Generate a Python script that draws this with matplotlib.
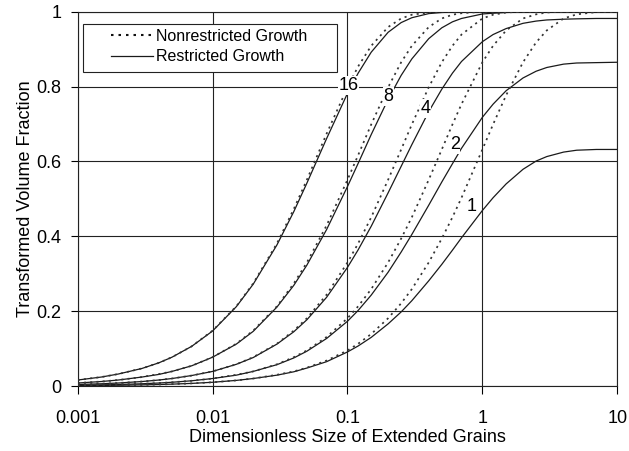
import matplotlib
matplotlib.use('Agg')
import matplotlib.pyplot as plt
from matplotlib.patches import Rectangle

plt.rcParams['font.family'] = ['Liberation Sans', 'DejaVu Sans']

# Data

x = [0.001, 0.0015, 0.002, 0.003, 0.004, 0.005, 0.007, 0.01, 0.015, 0.02,
     0.03, 0.04, 0.05, 0.07, 0.1, 0.12, 0.15, 0.2, 0.25, 0.3,
     0.4, 0.5, 0.6, 0.7, 1, 1.2, 1.5, 2, 2.5, 3,
     4, 5, 7, 10]

# nonrestricted growth (dotted)
free_1 = [0.001, 0.0015, 0.002, 0.003, 0.004, 0.005, 0.007, 0.010, 0.015, 0.020,
          0.030, 0.039, 0.049, 0.068, 0.095, 0.113, 0.139, 0.181, 0.221, 0.259,
          0.330, 0.394, 0.451, 0.503, 0.632, 0.699, 0.777, 0.865, 0.918, 0.950,
          0.982, 0.993, 0.999, 1.000]
free_2 = [0.002, 0.003, 0.004, 0.006, 0.008, 0.010, 0.014, 0.020, 0.030, 0.039,
          0.058, 0.077, 0.095, 0.131, 0.181, 0.213, 0.259, 0.330, 0.394, 0.451,
          0.551, 0.632, 0.699, 0.753, 0.865, 0.909, 0.950, 0.982, 0.993, 0.998,
          1.000, 1.000, 1.000, 1.000]
free_4 = [0.004, 0.006, 0.008, 0.012, 0.016, 0.020, 0.028, 0.039, 0.058, 0.077,
          0.113, 0.148, 0.181, 0.244, 0.330, 0.381, 0.451, 0.551, 0.632, 0.699,
          0.798, 0.865, 0.909, 0.939, 0.982, 0.992, 0.998, 1.000, 1.000, 1.000,
          1.000, 1.000, 1.000, 1.000]
free_8 = [0.008, 0.012, 0.016, 0.024, 0.032, 0.039, 0.054, 0.077, 0.113, 0.148,
          0.213, 0.274, 0.330, 0.429, 0.551, 0.617, 0.699, 0.798, 0.865, 0.909,
          0.959, 0.982, 0.992, 0.996, 1.000, 1.000, 1.000, 1.000, 1.000, 1.000,
          1.000, 1.000, 1.000, 1.000]
free_16 = [0.016, 0.024, 0.032, 0.047, 0.062, 0.077, 0.106, 0.148, 0.213, 0.274,
           0.381, 0.473, 0.551, 0.674, 0.798, 0.854, 0.909, 0.959, 0.982, 0.992,
           0.998, 1.000, 1.000, 1.000, 1.000, 1.000, 1.000, 1.000, 1.000, 1.000,
           1.000, 1.000, 1.000, 1.000]

# restricted growth (solid)
res_1 = [0.001, 0.0015, 0.002, 0.003, 0.004, 0.005, 0.007, 0.010, 0.015, 0.020,
         0.029, 0.038, 0.048, 0.065, 0.091, 0.107, 0.130, 0.166, 0.198, 0.228,
         0.281, 0.325, 0.363, 0.396, 0.469, 0.503, 0.540, 0.579, 0.601, 0.613,
         0.625, 0.630, 0.632, 0.632]
res_2 = [0.002, 0.003, 0.004, 0.006, 0.008, 0.010, 0.014, 0.020, 0.029, 0.039,
         0.057, 0.075, 0.093, 0.127, 0.173, 0.202, 0.243, 0.304, 0.358, 0.405,
         0.483, 0.545, 0.594, 0.635, 0.718, 0.753, 0.789, 0.823, 0.841, 0.851,
         0.860, 0.863, 0.864, 0.865]
res_4 = [0.004, 0.006, 0.008, 0.012, 0.016, 0.020, 0.028, 0.039, 0.058, 0.076,
         0.112, 0.145, 0.177, 0.237, 0.317, 0.364, 0.427, 0.516, 0.587, 0.645,
         0.733, 0.793, 0.836, 0.867, 0.920, 0.939, 0.955, 0.969, 0.975, 0.978,
         0.980, 0.981, 0.982, 0.982]
res_8 = [0.008, 0.012, 0.016, 0.024, 0.031, 0.039, 0.054, 0.077, 0.112, 0.146,
         0.211, 0.269, 0.323, 0.418, 0.533, 0.595, 0.672, 0.766, 0.830, 0.874,
         0.928, 0.957, 0.973, 0.982, 0.994, 0.996, 0.998, 0.999, 0.999, 1.000,
         1.000, 1.000, 1.000, 1.000]
res_16 = [0.016, 0.024, 0.032, 0.047, 0.062, 0.077, 0.106, 0.147, 0.212, 0.272,
          0.377, 0.466, 0.542, 0.661, 0.782, 0.836, 0.892, 0.945, 0.971, 0.984,
          0.995, 0.998, 0.999, 1.000, 1.000, 1.000, 1.000, 1.000, 1.000, 1.000,
          1.000, 1.000, 1.000, 1.000]

free_curves = [free_1, free_2, free_4, free_8, free_16]
res_curves = [res_1, res_2, res_4, res_8, res_16]

# curve labels and where they sit
curve_names = ['1', '2', '4', '8', '16']
label_x = [0.83, 0.624, 0.379, 0.202, 0.102]
label_y = [0.48, 0.645, 0.741, 0.773, 0.803]

x_ticks = [0.001, 0.01, 0.1, 1, 10]
x_ticklabels = ['0.001', '0.01', '0.1', '1', '10']
y_ticks = [0, 0.2, 0.4, 0.6, 0.8, 1]
y_ticklabels = ['0', '0.2', '0.4', '0.6', '0.8', '1']

DOTS = (0, (1.2, 2.4))

# Plot

fig = plt.figure(figsize=(6.29, 4.51), dpi=100)
ax = fig.add_axes([0.1235, 0.1441, 0.8579, 0.8299])

for yr in res_curves:
    ax.plot(x, yr, color='#1a1a1a', lw=0.9, zorder=3)
for yf in free_curves:
    ax.plot(x, yf, color='#333333', lw=1.25, linestyle=DOTS, zorder=4)

for name, lx, ly in zip(curve_names, label_x, label_y):
    ax.text(lx, ly, name, fontsize=13, ha='center', va='center', zorder=6,
            bbox=dict(facecolor='white', edgecolor='none', pad=0.5))

ax.set_xscale('log')
ax.set_xlim(0.001, 10)
ax.set_ylim(0, 1)
ax.set_xticks(x_ticks)
ax.set_xticklabels(x_ticklabels)
ax.set_yticks(y_ticks)
ax.set_yticklabels(y_ticklabels)
ax.minorticks_off()
ax.tick_params(axis='x', length=6, width=0.8, pad=11, labelsize=13)
ax.tick_params(axis='y', length=5, width=0.8, pad=6.5, labelsize=13)
ax.grid(True, color='#222222', lw=0.8, zorder=1)
ax.set_axisbelow(True)
for s in ax.spines.values():
    s.set_linewidth(0.8)
    s.set_color('#222222')

ax.set_xlabel('Dimensionless Size of Extended Grains', fontsize=13, labelpad=2)
ax.set_ylabel('Transformed Volume Fraction', fontsize=13, labelpad=2)

# legend box
ax.add_patch(Rectangle((0.0098, 0.8397), 0.4707, 0.1266, transform=ax.transAxes,
                       facecolor='white', edgecolor='#222222', lw=0.8, zorder=7))
h1, = ax.plot([], [], color='#111111', lw=1.5, linestyle=DOTS)
h2, = ax.plot([], [], color='#1a1a1a', lw=0.9)
leg = ax.legend([h1, h2], ['Nonrestricted Growth', 'Restricted Growth'],
                loc='upper left', bbox_to_anchor=(0.0617, 0.9546), frameon=False,
                borderpad=0, borderaxespad=0, handlelength=2.6, handletextpad=0.25,
                labelspacing=0.35, fontsize=11.5)
leg.set_zorder(8)

plt.savefig('out.png', dpi=100)
